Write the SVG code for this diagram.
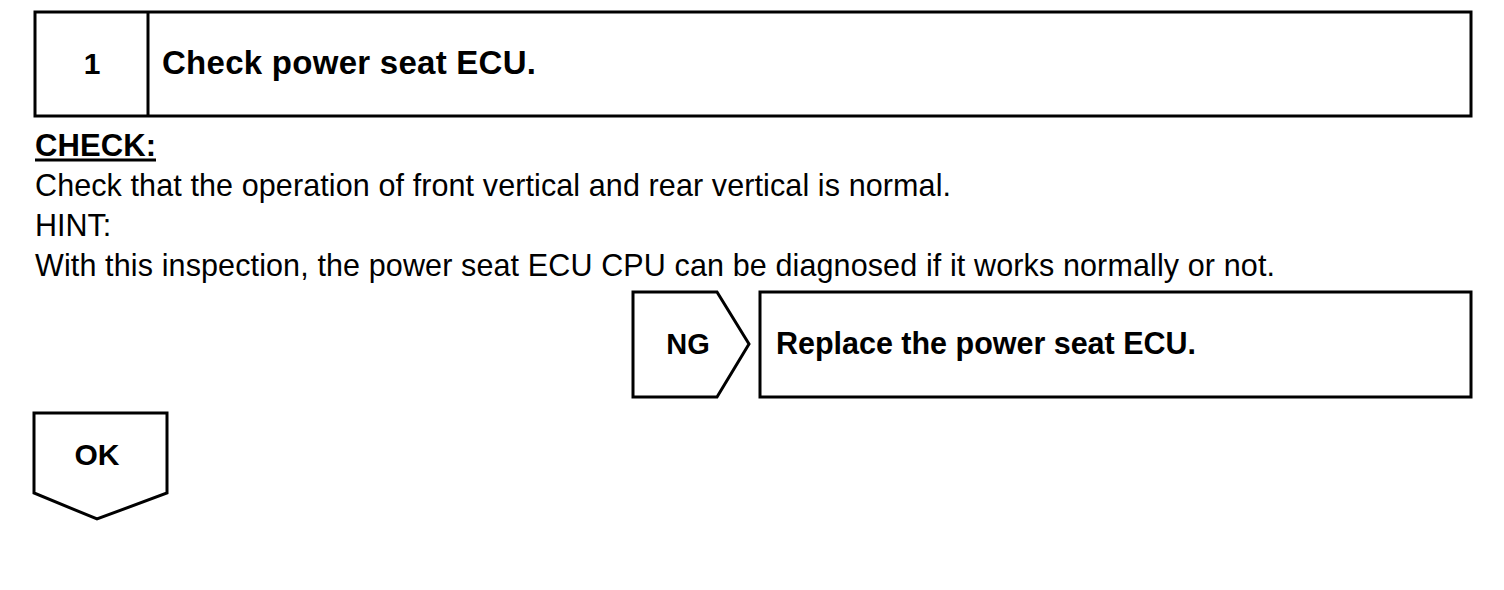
<svg xmlns="http://www.w3.org/2000/svg" width="1504" height="590" viewBox="0 0 1504 590">
<style>
.box{fill:#fff;stroke:#000;stroke-width:3;stroke-linejoin:miter}
.b{font-family:"Liberation Sans",Arial,sans-serif;font-weight:bold;fill:#000}
.r{font-family:"Liberation Sans",Arial,sans-serif;fill:#000}
</style>
<rect width="1504" height="590" fill="#fff"/>
<g id="step1">
<rect class="box" x="35" y="12" width="1436" height="104"/>
<line x1="148" y1="12" x2="148" y2="116" stroke="#000" stroke-width="3"/>
<text class="b" x="92" y="74" font-size="30" text-anchor="middle">1</text>
<text class="b" x="162" y="74" font-size="33" textLength="374">Check power seat ECU.</text>
</g>
<g id="notes">
<text class="b" x="35" y="156" font-size="31" textLength="121">CHECK:</text>
<line x1="35" y1="160" x2="156" y2="160" stroke="#000" stroke-width="3"/>
<text class="r" x="35" y="196" font-size="30.5" textLength="916">Check that the operation of front vertical and rear vertical is normal.</text>
<text class="r" x="35" y="236" font-size="30.5">HINT:</text>
<text class="r" x="35" y="276" font-size="30.5" textLength="1240">With this inspection, the power seat ECU CPU can be diagnosed if it works normally or not.</text>
</g>
<g id="ng">
<polygon class="box" points="633,292 717,292 749,344 717,397 633,397"/>
<text class="b" x="688" y="354" font-size="29" text-anchor="middle">NG</text>
</g>
<g id="replace">
<rect class="box" x="760" y="292" width="711" height="105"/>
<text class="b" x="776" y="354" font-size="30.5" textLength="420">Replace the power seat ECU.</text>
</g>
<g id="ok">
<polygon class="box" points="34,413 167,413 167,493 97,519 34,493"/>
<text class="b" x="97" y="465" font-size="30" text-anchor="middle">OK</text>
</g>
<g id="connectors"></g>
</svg>
